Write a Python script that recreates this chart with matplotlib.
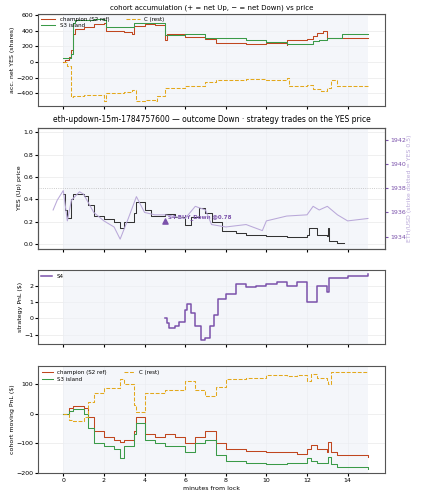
import matplotlib
matplotlib.use("Agg")
import matplotlib.pyplot as plt
import numpy as np

plt.rcParams["font.family"] = "DejaVu Sans"
plt.rcParams["font.size"] = 4.5

# panel 1: accumulated net YES shares
acc_t_champ = [0, 0.1, 0.3, 0.4, 0.5, 0.6, 1, 1.5, 2, 2.1, 3, 3.4, 3.5, 4, 4.5, 5, 5.1, 6, 7, 7.5, 8, 9, 9.5, 10, 11, 11.02, 12, 12.3, 12.5, 12.8, 13, 13.5, 14, 15]
acc_champ = [0, 30, 60, 150, 350, 420, 450, 480, 500, 400, 380, 360, 460, 480, 470, 280, 350, 320, 290, 240, 240, 230, 230, 240, 220, 280, 290, 330, 370, 390, 300, 300, 310, 310]
acc_t_s3 = [0, 0.4, 0.5, 0.6, 1.5, 2, 2.1, 3, 3.5, 4.5, 5, 6, 7, 8, 9, 10, 11, 11.02, 12, 12.3, 12.6, 13, 13.5, 13.7, 15]
acc_s3 = [50, 100, 500, 540, 550, 540, 450, 440, 500, 500, 340, 350, 310, 300, 280, 260, 250, 230, 230, 270, 280, 310, 310, 360, 360]
acc_t_c = [0, 0.2, 0.4, 0.5, 1, 2, 2.1, 3, 3.4, 3.6, 4, 4.5, 4.6, 5, 5.02, 6, 7, 7.5, 8, 9, 10, 11, 11.1, 12, 12.3, 12.7, 13, 13.2, 13.5, 15]
acc_c = [0, -50, -450, -430, -420, -500, -400, -380, -350, -500, -480, -500, -430, -400, -330, -300, -250, -230, -230, -210, -230, -200, -300, -290, -340, -370, -330, -230, -300, -300]

# panel 2: YES price and ETH price
yes_t = [0, 0.1, 0.2, 0.4, 0.5, 1, 1.2, 1.5, 2, 2.5, 2.8, 3, 3.5, 3.6, 4, 4.3, 5, 5.5, 6, 6.3, 6.7, 7, 7.3, 7.8, 8.5, 9, 10, 10.5, 11, 11.5, 12, 12.1, 12.5, 13, 13.02, 13.1, 13.5, 13.8]
yes_p = [0.45, 0.3, 0.23, 0.4, 0.45, 0.43, 0.35, 0.25, 0.22, 0.2, 0.14, 0.2, 0.28, 0.38, 0.3, 0.25, 0.27, 0.24, 0.17, 0.24, 0.32, 0.28, 0.2, 0.12, 0.1, 0.08, 0.07, 0.07, 0.06, 0.06, 0.08, 0.14, 0.08, 0.07, 0.14, 0.03, 0.01, 0.01]
eth_t = [-0.5, -0.3, 0, 0.2, 0.4, 0.8, 1, 1.5, 2, 2.5, 2.8, 3.2, 3.6, 4, 4.5, 5, 6, 6.5, 7, 7.3, 8, 9, 9.8, 10, 11, 12, 12.3, 12.6, 13, 13.5, 14, 14.5, 15]
eth_p = [1936.2, 1937, 1937.8, 1935.3, 1937, 1937.7, 1937.5, 1936, 1935.3, 1934.8, 1933.8, 1935.5, 1937.3, 1936, 1935.8, 1935.8, 1935.5, 1936.5, 1936.2, 1935, 1934.8, 1935, 1934.5, 1935.3, 1935.7, 1935.8, 1936.5, 1936.2, 1936.5, 1935.8, 1935.3, 1935.4, 1935.5]
strike = 1938
trade_t, trade_p, trade_label = 5.0, 0.21, "S4 BUY_Down @0.78"

# panel 3: strategy PnL
s4_t = [5, 5.1, 5.2, 5.5, 5.7, 6, 6.1, 6.3, 6.5, 6.8, 7, 7.2, 7.4, 7.6, 8, 8.5, 9, 9.5, 10, 10.5, 11, 11.5, 12, 12.5, 13, 13.1, 14, 15]
s4_pnl = [0, -0.3, -0.6, -0.5, -0.2, 0.5, 0.9, 0.3, -0.5, -1.3, -1.2, -0.5, 0.2, 1.2, 1.5, 2.1, 1.9, 2.0, 2.1, 2.2, 2.0, 2.2, 1.0, 2.0, 1.6, 2.5, 2.6, 2.7]

# panel 4: cohort moving PnL
pnl_t = [0, 0.3, 0.5, 1, 1.2, 1.5, 2, 2.5, 2.8, 3, 3.5, 3.6, 4, 4.5, 5, 5.5, 6, 6.5, 7, 7.5, 8, 9, 10, 11, 11.5, 12, 12.2, 12.5, 13, 13.05, 13.2, 13.5, 15]
pnl_champ = [0, 20, 25, 20, -10, -60, -80, -90, -95, -90, -60, -10, -70, -80, -70, -80, -100, -80, -60, -100, -120, -125, -130, -130, -135, -120, -105, -120, -130, -95, -130, -140, -145]
pnl_s3 = [0, 10, 15, 0, -50, -100, -110, -120, -150, -110, -70, -30, -90, -100, -110, -110, -130, -100, -90, -140, -160, -165, -170, -165, -165, -150, -160, -165, -165, -145, -170, -180, -185]
pnl_c = [0, -20, -25, -10, 40, 70, 85, 85, 115, 100, 30, 5, 70, 70, 80, 80, 110, 80, 60, 90, 115, 120, 130, 125, 130, 110, 135, 120, 110, 100, 140, 140, 140]

RED, GREEN, GOLD = "#c0461f", "#3a9a48", "#e3a81c"
PURPLE, LAV = "#7b52ab", "#b9a8d9"
LW = 0.75

fig = plt.figure(figsize=(4.21, 5.0), dpi=100)
gs = fig.add_gridspec(4, 1, height_ratios=[93, 122, 75, 108], hspace=0.22,
                      left=0.09, right=0.915, top=0.972, bottom=0.054)
axes = [fig.add_subplot(gs[i]) for i in range(4)]
for ax in axes[1:]:
    ax.sharex(axes[0])

for ax in axes:
    ax.axvspan(0, 15, color="#eef1f8", alpha=0.6, lw=0)
    ax.grid(True, color="#e4e4e4", lw=0.4)
    ax.set_axisbelow(True)
    ax.set_xlim(-1.25, 15.85)
    for s in ax.spines.values():
        s.set_color("#555555")
    ax.tick_params(length=2, labelsize=4.5, pad=1.5)
for ax in axes[:3]:
    ax.tick_params(labelbottom=False)

ax = axes[0]
ax.step(acc_t_champ, acc_champ, where="post", color=RED, lw=LW, label="champion (S2 ref)")
ax.step(acc_t_c, acc_c, where="post", color=GOLD, lw=LW, ls="--", label="C (rest)")
ax.step(acc_t_s3, acc_s3, where="post", color=GREEN, lw=LW, label="S3 island")
ax.set_ylim(-560, 610)
ax.set_yticks([-400, -200, 0, 200, 400, 600])
ax.set_ylabel("acc. net YES (shares)", labelpad=1)
ax.set_title("cohort accumulation (+ = net Up, \u2212 = net Down) vs price", fontsize=5, pad=3)
h, l = ax.get_legend_handles_labels()
ax.legend([h[0], h[2], h[1]], [l[0], l[2], l[1]], ncol=2, loc="upper left", fontsize=4, frameon=False,
          handlelength=2.5, borderaxespad=0.2, labelspacing=0.2, columnspacing=3)

ax = axes[1]
ax.step(yes_t, yes_p, where="post", color="#333333", lw=LW)
ax.scatter([trade_t], [trade_p], marker="^", color=PURPLE, s=14, zorder=5)
ax.annotate(trade_label, (trade_t, trade_p), xytext=(2, 2), textcoords="offset points",
            color=PURPLE, fontsize=4, fontweight="bold")
ax.set_ylim(-0.04, 1.04)
ax.set_ylabel("YES (Up) price", labelpad=1)
ax.set_title("eth-updown-15m-1784757600 \u2014 outcome Down \u00b7 strategy trades on the YES price",
             fontsize=5.5, pad=4)
tw = ax.twinx()
tw.plot(eth_t, eth_p, color=LAV, lw=LW)
tw.axhline(strike, color="#bbbbbb", ls=":", lw=0.6)
k = 9.21
tw.set_ylim(strike + (-0.04 - 0.5) * k, strike + (1.04 - 0.5) * k)
tw.set_yticks([1934, 1936, 1938, 1940, 1942])
tw.tick_params(colors=PURPLE, labelcolor=PURPLE, length=2, labelsize=4.5, pad=1.5)
tw.set_ylabel("ETH/USD (strike dotted = YES 0.5)", color=LAV, fontsize=4.5, labelpad=1)
for s in tw.spines.values():
    s.set_color("#555555")

ax = axes[2]
ax.step(s4_t, s4_pnl, where="post", color=PURPLE, lw=1.1, label="S4")
ax.set_ylim(-1.6, 2.95)
ax.set_yticks([-1, 0, 1, 2])
ax.set_ylabel("strategy PnL ($)", labelpad=1)
ax.legend(loc="upper left", fontsize=4, frameon=False, borderaxespad=0.2)

ax = axes[3]
ax.step(pnl_t, pnl_champ, where="post", color=RED, lw=LW, label="champion (S2 ref)")
ax.step(pnl_t, pnl_s3, where="post", color=GREEN, lw=LW, label="S3 island")
ax.step(pnl_t, pnl_c, where="post", color=GOLD, lw=LW, ls="--", label="C (rest)")
ax.set_ylim(-200, 160)
ax.set_yticks([-200, -100, 0, 100])
ax.set_ylabel("cohort moving PnL ($)", labelpad=1)
ax.set_xlabel("minutes from lock", labelpad=2)
ax.set_xticks([0, 2, 4, 6, 8, 10, 12, 14])
h, l = ax.get_legend_handles_labels()
ax.legend([h[0], h[1], h[2]], l, ncol=2, loc="upper left", fontsize=4, frameon=False,
          borderaxespad=0.3, labelspacing=0.3, columnspacing=3)

fig.savefig("out.png", dpi=100)
